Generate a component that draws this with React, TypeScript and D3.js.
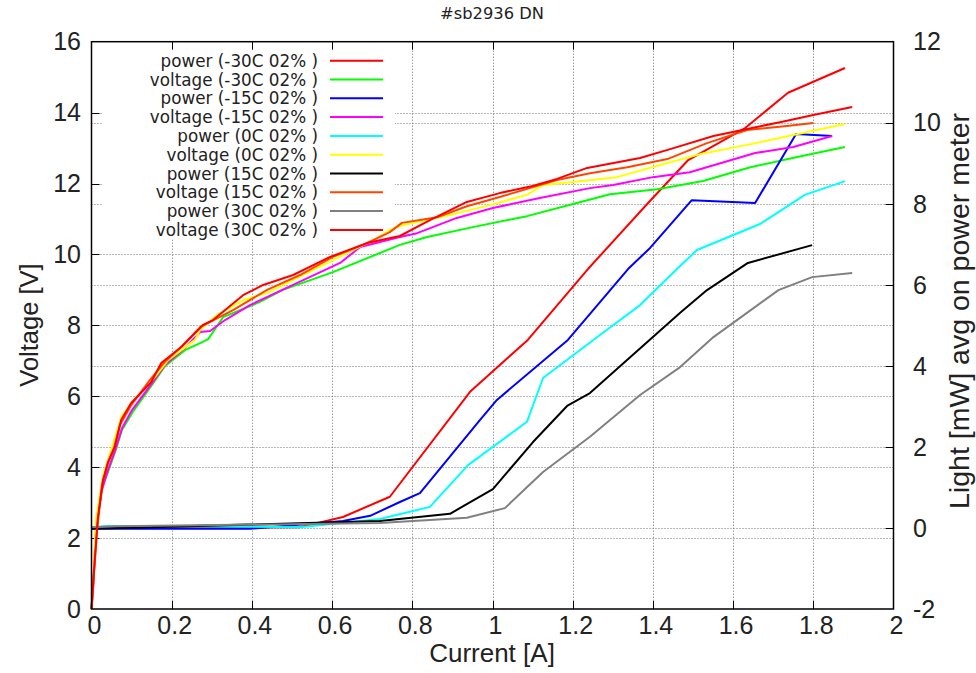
import React from 'react';
import * as d3 from 'd3';

const W = 976;
const H = 673;
const M = { left: 91.5, right: 893.5, top: 41.7, bottom: 609 };

const xTicks = [0, 0.2, 0.4, 0.6, 0.8, 1, 1.2, 1.4, 1.6, 1.8, 2];
const voltTicks = [0, 2, 4, 6, 8, 10, 12, 14, 16];
const lightTicks = [-2, 0, 2, 4, 6, 8, 10, 12];

// [current A, light mW]
const powerM30: [number, number][] = [
  [0, 0], [0.27, 0], [0.52, 0.02], [0.627, 0.27], [0.744, 0.77], [0.944, 3.36],
  [1.088, 4.64], [1.238, 6.39], [1.388, 8.02], [1.488, 9.08], [1.63, 9.87],
  [1.737, 10.74], [1.879, 11.35],
];
const powerM15: [number, number][] = [
  [0, -0.02], [0.395, -0.02], [0.627, 0.17], [0.695, 0.3], [0.769, 0.64], [0.819, 0.86],
  [0.969, 2.67], [1.011, 3.16], [1.188, 4.64], [1.338, 6.39], [1.393, 6.91],
  [1.497, 8.09], [1.655, 8.02], [1.757, 9.72], [1.847, 9.67],
];
const power0: [number, number][] = [
  [0, 0.02], [0.04, 0.05], [0.52, 0.02], [0.719, 0.22], [0.844, 0.52], [0.939, 1.55],
  [1.086, 2.62], [1.126, 3.7], [1.268, 4.76], [1.368, 5.5], [1.46, 6.39],
  [1.51, 6.86], [1.667, 7.5], [1.779, 8.22], [1.879, 8.56],
];
const power15: [number, number][] = [
  [0, -0.02], [0.719, 0.17], [0.894, 0.35], [1.001, 0.96], [1.101, 2.12],
  [1.186, 3.01], [1.243, 3.33], [1.468, 5.31], [1.535, 5.87], [1.637, 6.54],
  [1.797, 6.98],
];
const power30: [number, number][] = [
  [0, 0.02], [0.06, 0.04], [0.719, 0.12], [0.936, 0.25], [1.031, 0.49], [1.126, 1.38],
  [1.243, 2.25], [1.368, 3.28], [1.468, 3.97], [1.551, 4.71], [1.713, 5.87],
  [1.797, 6.19], [1.897, 6.29],
];

// [current A, voltage V]
const voltM30: [number, number][] = [
  [0, 0], [0.004, 0.68], [0.011, 2.23], [0.026, 3.41], [0.041, 3.86], [0.059, 4.43],
  [0.076, 5.05], [0.103, 5.56], [0.151, 6.32], [0.183, 6.85], [0.233, 7.3],
  [0.271, 7.5], [0.291, 7.61], [0.328, 8.23], [0.42, 8.66], [0.477, 9.0],
  [0.602, 9.5], [0.769, 10.27], [0.837, 10.49], [0.951, 10.77], [1.086, 11.08],
  [1.201, 11.42], [1.293, 11.7], [1.411, 11.84], [1.525, 12.07], [1.643, 12.46],
  [1.76, 12.75], [1.879, 13.03],
];
const voltM15: [number, number][] = [
  [0, 0], [0.004, 0.54], [0.011, 2.23], [0.026, 3.36], [0.041, 3.92], [0.059, 4.48],
  [0.076, 5.1], [0.101, 5.61], [0.151, 6.37], [0.183, 6.88], [0.233, 7.36],
  [0.271, 7.81], [0.296, 7.84], [0.333, 8.15], [0.395, 8.57], [0.512, 9.19],
  [0.62, 9.76], [0.67, 10.21], [0.769, 10.49], [0.812, 10.6], [0.911, 11.03],
  [1.001, 11.31], [1.118, 11.59], [1.243, 11.87], [1.301, 11.96], [1.4, 12.18],
  [1.492, 12.32], [1.655, 12.86], [1.75, 13.03], [1.847, 13.34],
];
const volt0: [number, number][] = [
  [0, 0], [0.004, 0.62], [0.011, 2.51], [0.029, 3.78], [0.049, 4.48], [0.074, 5.41],
  [0.099, 5.81], [0.158, 6.54], [0.191, 7.02], [0.258, 7.59], [0.271, 7.87],
  [0.313, 8.29], [0.378, 8.71], [0.438, 8.91], [0.503, 9.28], [0.602, 9.84],
  [0.712, 10.46], [0.744, 10.69], [0.777, 10.83], [0.894, 11.11], [0.994, 11.39],
  [1.086, 11.68], [1.126, 11.96], [1.201, 12.04], [1.31, 12.18], [1.418, 12.52],
  [1.518, 12.83], [1.635, 13.09], [1.75, 13.37], [1.879, 13.68],
];
const volt15: [number, number][] = [
  [0, 0], [0.006, 0.96], [0.014, 2.23], [0.026, 3.5], [0.041, 4.15], [0.056, 4.54],
  [0.071, 5.19], [0.099, 5.75], [0.146, 6.46], [0.183, 6.97], [0.228, 7.44],
  [0.271, 7.95], [0.296, 8.1], [0.353, 8.43], [0.438, 9.0], [0.52, 9.42],
  [0.602, 9.93], [0.687, 10.32], [0.744, 10.63], [0.774, 10.89], [0.862, 11.05],
  [0.936, 11.36], [1.018, 11.62], [1.093, 11.87], [1.161, 12.1], [1.243, 12.29],
  [1.336, 12.46], [1.436, 12.69], [1.535, 13.14], [1.635, 13.51], [1.734, 13.62],
  [1.8, 13.71],
];
const volt30: [number, number][] = [
  [0, 0], [0.008, 1.38], [0.016, 2.59], [0.029, 3.64], [0.041, 4.12], [0.058, 4.57],
  [0.074, 5.33], [0.099, 5.81], [0.149, 6.4], [0.174, 6.94], [0.224, 7.39],
  [0.278, 8.01], [0.303, 8.15], [0.378, 8.85], [0.428, 9.14], [0.503, 9.42],
  [0.595, 9.93], [0.687, 10.32], [0.769, 10.52], [0.844, 10.97], [0.936, 11.48],
  [1.018, 11.73], [1.1, 11.93], [1.161, 12.13], [1.236, 12.44], [1.368, 12.72],
  [1.443, 12.97], [1.551, 13.34], [1.635, 13.54], [1.717, 13.73], [1.8, 13.93],
  [1.897, 14.16],
];

const seriesLabels = [
  'power (-30C 02% )', 'voltage (-30C 02% )',
  'power (-15C 02% )', 'voltage (-15C 02% )',
  'power (0C 02% )', 'voltage (0C 02% )',
  'power (15C 02% )', 'voltage (15C 02% )',
  'power (30C 02% )', 'voltage (30C 02% )',
];
const seriesColors = [
  '#ff0000', '#00ff00', '#0000ff', '#ff00ff', '#00ffff',
  '#ffff00', '#000000', '#ff4500', '#808080', '#ff0000',
];
const seriesData = [powerM30, voltM30, powerM15, voltM15, power0, volt0, power15, volt15, power30, volt30];
const seriesAxis = ['light', 'volt', 'light', 'volt', 'light', 'volt', 'light', 'volt', 'light', 'volt'];

const FONT = '"Liberation Sans", Arial, Helvetica, sans-serif';
const KEY_FONT = '"DejaVu Sans", Verdana, sans-serif';
const TEXT = '#222';

export default function App() {
  const x = d3.scaleLinear().domain([0, 2]).range([M.left, M.right]);
  const yV = d3.scaleLinear().domain([0, 16]).range([M.bottom, M.top]);
  const yL = d3.scaleLinear().domain([-2, 12]).range([M.bottom, M.top]);

  const fmt = (v: number) => String(+v.toFixed(1));
  const snap = (v: number) => Math.round(v) + 0.5;

  const lineFor = (axis: string) =>
    d3.line<[number, number]>()
      .x(d => x(d[0]))
      .y(d => (axis === 'volt' ? yV(d[1]) : yL(d[1])));

  const gridColor = '#707070';
  const tickLen = 8;

  const legendTop = 60.7;
  const legendStep = 18.8;

  return (
    <svg
      width={W}
      height={H}
      viewBox={`0 0 ${W} ${H}`}
      style={{ position: 'absolute', left: 0, top: 0, background: '#fff' }}
      fontFamily={FONT}
    >
      <rect x={0} y={0} width={W} height={H} fill="#fff" />

      {/* grid */}
      <g stroke={gridColor} strokeWidth={1} strokeDasharray="1,2" fill="none">
        {xTicks.slice(1, -1).map(t => (
          <line key={'gx' + t} x1={snap(x(t))} x2={snap(x(t))} y1={M.top} y2={M.bottom} />
        ))}
        {voltTicks.slice(1, -1).map(t => (
          <line key={'gy' + t} x1={M.left} x2={M.right} y1={snap(yV(t))} y2={snap(yV(t))} />
        ))}
        {lightTicks.slice(1, -1).map(t => (
          <line key={'gy2' + t} x1={M.left} x2={M.right} y1={snap(yL(t))} y2={snap(yL(t))} />
        ))}
      </g>

      {/* key background */}
      <rect x={102} y={M.top + 2} width={293} height={196} fill="#fff" />

      {/* ticks */}
      <g stroke="#000" strokeWidth={1}>
        {xTicks.slice(1, -1).map(t => (
          <g key={'tx' + t}>
            <line x1={snap(x(t))} x2={snap(x(t))} y1={M.bottom} y2={M.bottom - tickLen} />
            <line x1={snap(x(t))} x2={snap(x(t))} y1={M.top} y2={M.top + tickLen} />
          </g>
        ))}
        {voltTicks.slice(1, -1).map(t => (
          <line key={'ty' + t} x1={M.left} x2={M.left + tickLen} y1={snap(yV(t))} y2={snap(yV(t))} />
        ))}
        {lightTicks.slice(1, -1).map(t => (
          <line key={'ty2' + t} x1={M.right} x2={M.right - tickLen} y1={snap(yL(t))} y2={snap(yL(t))} />
        ))}
      </g>

      {/* data */}
      <g fill="none" strokeWidth={2} strokeLinejoin="round">
        {seriesData.map((d, i) => (
          <path key={'s' + i} d={lineFor(seriesAxis[i])(d) || ''} stroke={seriesColors[i]} />
        ))}
      </g>

      {/* key */}
      <g fontFamily={KEY_FONT}>
        {seriesLabels.map((lab, i) => {
          const cy = legendTop + i * legendStep;
          return (
            <g key={'k' + i}>
              <text x={318} y={cy + 6} textAnchor="end" fontSize={16.8} fill={TEXT}>{lab}</text>
              <line x1={330} x2={383} y1={cy} y2={cy} stroke={seriesColors[i]} strokeWidth={2} />
            </g>
          );
        })}
      </g>

      {/* border */}
      <rect x={M.left} y={M.top} width={M.right - M.left} height={M.bottom - M.top}
        fill="none" stroke="#000" strokeWidth={1.5} />

      {/* tick labels */}
      <g fontSize={25} fill={TEXT}>
        {xTicks.map(t => (
          <text key={'lx' + t} x={x(t) + 3} y={633.5} textAnchor="middle">{fmt(t)}</text>
        ))}
        {voltTicks.map(t => (
          <text key={'ly' + t} x={81} y={yV(t)} dy="0.35em" textAnchor="end">{fmt(t)}</text>
        ))}
        {lightTicks.map(t => (
          <text key={'ly2' + t} x={913} y={yL(t)} dy="0.35em" textAnchor="start">{fmt(t)}</text>
        ))}
      </g>

      {/* axis titles */}
      <text x={492} y={662} textAnchor="middle" fontSize={26} fill={TEXT}>Current [A]</text>
      <text transform={`translate(38,325) rotate(-90)`} textAnchor="middle" fontSize={25.5} fill={TEXT}>Voltage [V]</text>
      <text transform={`translate(969,311) rotate(-90)`} textAnchor="middle" fontSize={28.5} fill={TEXT}>Light [mW] avg on power meter</text>
      <text x={492} y={19.3} textAnchor="middle" fontSize={16.3} fontFamily={KEY_FONT} fill={TEXT}>#sb2936 DN</text>
    </svg>
  );
}
